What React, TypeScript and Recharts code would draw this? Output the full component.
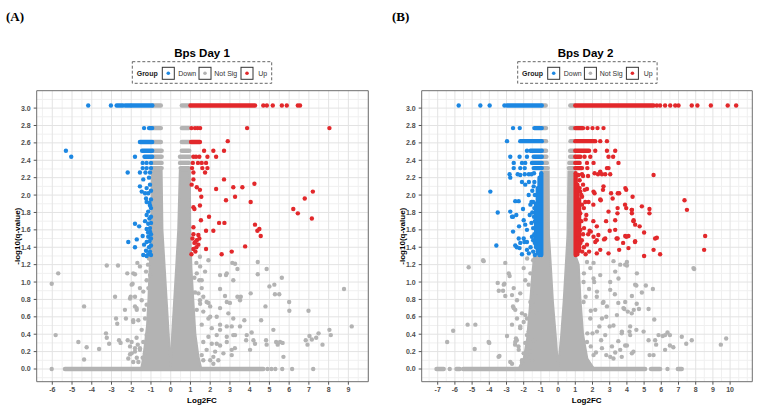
import React from 'react';
import { ComposedChart, XAxis, YAxis, Scatter, Area, CartesianGrid, ReferenceArea } from 'recharts';

type P = [number, number];
type Seg = [string, number, number, number, number];

const groupColor: Record<string, string> = { Down: '#1c87e2', 'Not Sig': '#b3b3b3', Up: '#e2282b' };
const legendGroups = ['Down', 'Not Sig', 'Up'];

const yTicks = [0, 0.2, 0.4, 0.6, 0.8, 1.0, 1.2, 1.4, 1.6, 1.8, 2.0, 2.2, 2.4, 2.6, 2.8, 3.0];
const yMinor = [-0.1, 0.1, 0.3, 0.5, 0.7, 0.9, 1.1, 1.3, 1.5, 1.7, 1.9, 2.1, 2.3, 2.5, 2.7, 2.9, 3.1];
const yDomain: [number, number] = [-0.146, 3.2];

// ---------- Panel A : Bps Day 1 ----------
const xTicksA = [-6, -5, -4, -3, -2, -1, 0, 1, 2, 3, 4, 5, 6, 7, 8, 9];
const xMinorA = [-6.5, -5.5, -4.5, -3.5, -2.5, -1.5, -0.5, 0.5, 1.5, 2.5, 3.5, 4.5, 5.5, 6.5, 7.5, 8.5, 9.5, 10];
const xDomainA: [number, number] = [-6.79, 10.01];

// dense Not Sig core (x, upper -log10 q)
const coreA: P[] = [
  [-1.5, 0], [-1.4, 0.12], [-1.3, 0.3], [-1.2, 0.5], [-1.13, 0.8], [-1.07, 1.15], [-1.0, 1.5], [-0.97, 1.9],
  [-0.95, 2.28], [-0.46, 2.28], [-0.42, 1.6], [-0.3, 1.15], [-0.2, 0.77], [-0.1, 0.39], [0, 0.02], [0.07, 0.39],
  [0.17, 0.77], [0.27, 1.15], [0.38, 1.6], [0.46, 2.28], [0.97, 2.28], [0.99, 1.6], [1.05, 1.16], [1.15, 0.77],
  [1.25, 0.4], [1.4, 0.15], [1.55, 0],
];

// runs of overlapping genes: group, x1, y1, x2, y2
const runsA: Seg[] = [
  ['Not Sig', -5.36, 0, 4.69, 0],
  ['Not Sig', -0.9, 3.03, -0.5, 3.03], ['Not Sig', 0.56, 3.03, 0.96, 3.03],
  ['Not Sig', -0.9, 2.77, -0.5, 2.77], ['Not Sig', 0.56, 2.77, 0.92, 2.77],
  ['Not Sig', -0.9, 2.61, -0.5, 2.61], ['Not Sig', 0.56, 2.61, 0.96, 2.61],
  ['Not Sig', -0.9, 2.51, -0.46, 2.51], ['Not Sig', 0.56, 2.51, 0.94, 2.51],
  ['Not Sig', -0.9, 2.44, -0.46, 2.44], ['Not Sig', 0.47, 2.44, 0.96, 2.44],
  ['Not Sig', -0.92, 2.37, -0.46, 2.37], ['Not Sig', 0.47, 2.37, 0.92, 2.37],
  ['Not Sig', -0.9, 2.31, -0.46, 2.31], ['Not Sig', 0.5, 2.31, 0.92, 2.31],
  ['Down', -2.74, 3.03, -2.42, 3.03], ['Down', -2.3, 3.03, -2.05, 3.03], ['Down', -1.98, 3.03, -0.93, 3.03],
  ['Down', -1.1, 2.77, -0.94, 2.77], ['Down', -1.56, 2.61, -0.94, 2.61], ['Down', -1.45, 2.51, -0.94, 2.51],
  ['Down', -1.33, 2.44, -0.94, 2.44],
  ['Up', 1.0, 3.03, 4.27, 3.03], ['Up', 1.03, 2.61, 1.48, 2.61],
];

const greyA: P[] = [
  [-6.03, 0], [4.9, 0], [5.1, 0], [5.3, 0], [5.65, 0], [6.15, 0], [7.22, 0],
  [-6.03, 0.98], [-5.7, 1.1], [-5.83, 0.39], [-4.39, 0.72], [-4.68, 0.31], [-4.26, 0.25], [-4.39, 0.11], [-3.63, 0.23],
  [-3.24, 1.19], [-2.67, 1.19], [-2.82, 0.83], [-3.28, 0.41], [-3.24, 0.36], [-3.12, 0.29], [-2.77, 0.58], [-2.71, 0.52],
  [-2.62, 0.33], [-2.54, 0.3], [-2.32, 0.68], [-2.27, 0.58], [-2.2, 1.1], [-1.9, 1.1], [-2.03, 0.83], [-1.93, 0.98],
  [-1.81, 0.72], [-1.73, 0.7], [-1.9, 0.56], [-2.18, 0.33], [-2.06, 0.26], [-2.15, 0.12], [-1.98, 0.18], [-1.81, 0.2],
  [-1.67, 0.28], [-1.56, 0.24], [-1.73, 0.36], [-1.9, 0.08], [-1.64, 0.08], [-1.42, 0.13], [-1.35, 0.68], [-1.47, 0.79],
  [-1.39, 0.89], [-1.22, 1.02], [-1.56, 1.18], [-1.69, 1.22], [-1.81, 1.09], [-1.98, 0.97], [-1.81, 0.83], [-2.06, 0.81],
  [-1.56, 0.93], [-1.72, 0.68], [-1.64, 0.56], [-1.9, 0.54], [-1.47, 0.45], [-1.98, 0.31], [-1.81, 0.24],
  [-1.56, 0.22], [-2.06, 0.17], [-1.72, 0.13], [-1.3, 0.18], [-1.39, 0.31], [-1.22, 0.39], [-1.3, 0.58], [-1.22, 0.74],
  [-1.13, 0.93], [-1.05, 1.08], [-1.15, 1.2], [-1.1, 1.27], [-1.25, 1.12],
  [1.91, 1.25], [1.49, 1.18], [1.74, 1.12], [1.32, 1.1], [1.57, 1.02], [2.5, 1.08], [2.84, 1.1], [1.57, 0.93], [1.65, 0.83],
  [1.4, 0.87], [1.82, 0.77], [1.49, 0.75], [2.0, 0.72], [1.65, 0.66], [2.5, 0.7], [2.84, 0.77], [3.17, 0.58], [2.33, 0.6],
  [1.91, 0.58], [1.57, 0.51], [2.08, 0.47], [2.5, 0.51], [2.84, 0.49], [2.33, 0.39], [1.91, 0.37], [1.65, 0.31], [2.08, 0.29],
  [2.5, 0.27], [2.84, 0.31], [3.17, 0.39], [1.82, 0.22], [2.25, 0.2], [2.67, 0.18], [1.57, 0.16], [2.0, 0.1], [3.25, 0.24],
  [3.09, 0.16], [2.16, 0.06],
  [1.45, 1.02], [1.23, 0.88], [1.48, 0.79], [1.32, 0.68], [1.91, 0.76], [2.0, 0.6], [2.5, 0.92], [2.75, 0.84], [2.8, 1.08],
  [3.26, 1.21], [3.38, 1.15], [3.17, 1.02], [3.38, 0.83], [3.55, 0.83], [3.51, 0.79], [4.05, 0.87], [4.41, 1.23], [4.41, 1.09],
  [4.86, 1.15], [5.0, 0.95], [5.25, 0.97], [5.28, 0.86], [5.5, 0.86], [5.63, 1.05], [4.8, 0.72], [4.58, 0.56], [4.1, 0.42],
  [5.2, 0.45], [6.0, 0.77], [6.01, 0.67], [6.98, 0.67], [8.78, 0.92], [9.17, 0.49], [8.04, 0.45], [8.11, 0.39], [7.03, 0.38],
  [6.84, 0.33], [6.93, 0.28], [7.15, 0.34], [7.37, 0.36], [7.49, 0.41], [7.69, 0.28], [5.71, 0.14], [5.34, 0.31], [5.42, 0.28],
  [5.54, 0.31], [5.67, 0.3], [4.83, 0.33], [4.86, 0.28], [4.19, 0.33], [4.27, 0.29], [3.82, 0.33], [3.73, 0.56], [3.0, 0.76],
  [2.92, 0.64], [3.09, 0.49], [2.84, 0.37], [3.26, 0.39], [3.51, 0.49], [3.85, 0.39], [4.02, 0.22], [3.09, 0.22], [2.5, 0.45],
  [2.33, 0.29], [2.16, 0.14], [1.65, 0.1], [2.41, 0.1], [1.48, 1.29], [3.12, 1.22], [1.3, 1.22], [1.2, 1.05],
];

const downA: P[] = [
  [-4.18, 3.03], [-3.03, 3.03], [-1.35, 2.77],
  [-5.31, 2.51], [-5.04, 2.44], [-1.81, 2.44],
  [-1.42, 2.37], [-1.22, 2.37], [-1.0, 2.37], [-1.42, 2.31], [-1.22, 2.31], [-1.0, 2.31],
  [-2.18, 2.26], [-1.56, 2.26], [-1.28, 2.26], [-1.05, 2.26], [-1.39, 2.18], [-1.1, 2.2],
  [-1.56, 2.1], [-1.22, 2.08], [-1.05, 2.12], [-1.47, 2.04], [-1.14, 2.02], [-1.3, 2.02], [-1.0, 2.05],
  [-1.25, 1.96], [-1.08, 1.91], [-1.22, 1.92], [-1.0, 1.95], [-1.0, 1.85], [-1.14, 1.81], [-1.05, 1.88],
  [-1.22, 1.77], [-1.08, 1.73], [-1.3, 1.7], [-1.0, 1.75], [-1.14, 1.67], [-1.81, 1.67], [-1.6, 1.64],
  [-1.22, 1.61], [-1.05, 1.62], [-1.0, 1.68], [-1.05, 1.58], [-1.42, 1.53], [-1.14, 1.52], [-1.0, 1.55],
  [-1.72, 1.49], [-2.15, 1.46], [-1.22, 1.46], [-1.35, 1.43], [-1.1, 1.4], [-1.81, 1.4], [-1.0, 1.42],
  [-1.25, 1.36], [-1.05, 1.35], [-1.14, 1.32], [-1.39, 1.31], [-1.22, 1.3], [-1.0, 1.31], [-1.08, 1.47], [-1.0, 1.5], [-1.15, 1.57],
];

const upA: P[] = [
  [4.69, 3.03], [4.87, 3.03], [5.17, 3.03], [5.63, 3.03], [5.88, 3.03], [6.44, 3.03], [6.55, 3.03],
  [1.05, 2.77], [1.23, 2.77], [1.36, 2.77], [1.49, 2.77], [3.87, 2.77], [8.04, 2.77],
  [2.89, 2.62], [1.69, 2.51], [2.16, 2.51], [2.7, 2.51],
  [1.15, 2.44], [1.28, 2.44], [1.45, 2.44], [1.86, 2.44], [2.3, 2.44],
  [1.12, 2.37], [1.38, 2.37], [1.57, 2.37], [1.79, 2.37], [1.08, 2.31], [1.6, 2.31], [1.86, 2.31],
  [1.15, 2.26], [1.74, 2.26], [2.7, 2.18], [1.15, 2.18], [4.24, 2.13], [1.06, 2.12],
  [3.17, 2.09], [3.63, 2.09], [1.32, 2.09], [1.48, 2.06], [2.3, 2.07], [7.2, 2.04],
  [3.26, 1.98], [1.55, 1.98], [6.79, 1.96], [2.8, 1.94], [4.05, 1.92],
  [1.48, 1.88], [1.15, 1.86], [1.2, 1.84], [6.21, 1.84], [6.44, 1.79], [1.94, 1.75], [7.15, 1.73], [1.53, 1.71],
  [2.45, 1.68], [2.72, 1.68], [4.27, 1.66], [1.15, 1.63], [4.49, 1.61], [4.39, 1.59], [1.79, 1.59], [2.16, 1.59],
  [4.56, 1.53], [1.4, 1.54], [1.15, 1.55], [1.32, 1.48], [1.45, 1.5], [1.25, 1.46], [1.4, 1.43], [1.1, 1.5],
  [1.2, 1.45], [1.3, 1.4], [1.15, 1.38], [1.25, 1.35], [1.05, 1.32],
  [3.77, 1.41], [1.79, 1.38], [3.09, 1.35], [2.58, 1.32],
];

// ---------- Panel B : Bps Day 2 ----------
const xTicksB = [-7, -6, -5, -4, -3, -2, -1, 0, 1, 2, 3, 4, 5, 6, 7, 8, 9, 10];
const xMinorB = [-7.5, -6.5, -5.5, -4.5, -3.5, -2.5, -1.5, -0.5, 0.5, 1.5, 2.5, 3.5, 4.5, 5.5, 6.5, 7.5, 8.5, 9.5, 10.5, 11];
const xDomainB: [number, number] = [-7.93, 11.29];

const coreB: P[] = [
  [-2.3, 0], [-2.0, 0.12], [-1.8, 0.35], [-1.65, 0.7], [-1.5, 1.1], [-1.4, 1.28], [-0.97, 1.3], [-0.95, 2.27],
  [-0.55, 2.27], [-0.53, 1.55], [-0.3, 0.77], [-0.14, 0.39], [0, 0.02], [0.18, 0.39], [0.32, 0.77], [0.55, 1.55],
  [0.6, 2.27], [1.0, 2.27], [1.02, 1.3], [1.2, 1.2], [1.3, 0.8], [1.45, 0.4], [1.7, 0.12], [2.1, 0],
];

const runsB: Seg[] = [
  ['Not Sig', -7.07, 0, -6.65, 0], ['Not Sig', -5.91, 0, -5.72, 0], ['Not Sig', -5.52, 0, 5.06, 0],
  ['Not Sig', 5.4, 0, 5.93, 0], ['Not Sig', 6.96, 0, 7.19, 0],
  ['Not Sig', -0.92, 3.03, -0.72, 3.03], ['Not Sig', 0.71, 3.03, 0.97, 3.03],
  ['Not Sig', -0.92, 2.77, -0.7, 2.77], ['Not Sig', 0.72, 2.77, 0.94, 2.77],
  ['Not Sig', -0.92, 2.62, -0.7, 2.62], ['Not Sig', 0.72, 2.62, 0.97, 2.62],
  ['Not Sig', -0.92, 2.51, -0.7, 2.51], ['Not Sig', 0.7, 2.51, 0.97, 2.51],
  ['Not Sig', -0.92, 2.44, -0.68, 2.44], ['Not Sig', 0.7, 2.44, 0.97, 2.44],
  ['Not Sig', -0.92, 2.37, -0.65, 2.37], ['Not Sig', 0.65, 2.37, 0.97, 2.37],
  ['Not Sig', -0.92, 2.31, -0.6, 2.31], ['Not Sig', 0.62, 2.31, 0.97, 2.31],
  ['Down', -2.97, 3.03, -0.95, 3.03], ['Down', -1.38, 2.77, -0.95, 2.77], ['Down', -2.2, 2.62, -0.95, 2.62],
  ['Down', -1.61, 2.51, -0.95, 2.51], ['Down', -1.42, 2.44, -0.95, 2.44], ['Down', -1.52, 2.37, -0.95, 2.37],
  ['Down', -1.42, 2.31, -0.95, 2.31],
  ['Down', -0.98, 1.31, -0.98, 2.25], ['Down', -1.08, 1.31, -1.08, 2.2], ['Down', -1.18, 1.33, -1.18, 2.08],
  ['Down', -1.28, 1.4, -1.28, 1.9],
  ['Up', 1.0, 3.03, 5.55, 3.03], ['Up', 1.0, 2.77, 1.45, 2.77], ['Up', 1.0, 2.62, 2.16, 2.62],
  ['Up', 1.0, 2.51, 1.8, 2.51], ['Up', 1.0, 2.44, 1.3, 2.44], ['Up', 1.0, 2.37, 1.25, 2.37], ['Up', 1.0, 2.31, 1.39, 2.31],
  ['Up', 1.02, 1.31, 1.02, 2.25], ['Up', 1.12, 1.32, 1.12, 2.12], ['Up', 1.22, 1.36, 1.22, 1.95],
];

const greyB: P[] = [
  [-6.3, 0], [6.36, 0],
  [-5.2, 1.17], [-4.33, 1.24], [-3.07, 1.22], [-3.51, 0.99], [-3.45, 0.9], [-3.12, 0.98], [-3.2, 0.9], [-3.07, 0.84],
  [-6.1, 0.44], [-6.45, 0.31], [-5.26, 0.51], [-4.81, 0.51], [-4.85, 0.23], [-4.0, 0.3], [-3.41, 0.15], [-2.97, 0.38],
  [-2.68, 0.06], [-2.5, 0.28], [-2.4, 0.33], [-2.3, 0.26], [-2.45, 0.35], [-2.87, 1.1], [-2.82, 1.07], [-2.58, 0.93],
  [-2.62, 0.72], [-2.49, 0.68], [-2.39, 0.79], [-2.2, 0.87], [-2.1, 0.64], [-2.0, 0.54], [-2.2, 0.49], [-1.81, 0.58],
  [-1.71, 0.43], [-1.91, 0.3], [-1.81, 0.16], [-1.61, 0.2], [-2.1, 0.1], [-1.52, 0.1], [-1.42, 0.33], [-1.91, 1.02],
  [-1.61, 1.1], [-1.42, 0.98], [-1.23, 1.14], [-1.52, 0.76], [-1.33, 0.87], [-1.23, 0.64],
  [-4.36, 1.25], [-4.04, 0.31], [-3.46, 0.14], [-2.78, 0.08], [-3.16, 0.97], [-2.68, 0.85], [-2.58, 0.7],
  [-2.39, 0.58], [-2.68, 0.51], [-2.2, 0.47], [-2.49, 0.31], [-2.29, 0.22], [-2.0, 0.18], [-2.1, 0.08], [-1.81, 0.39],
  [-1.91, 0.62], [-1.61, 0.77], [-1.71, 0.97], [-2.0, 1.16], [-1.45, 1.25], [-1.8, 1.27],
  [2.06, 1.22], [2.45, 1.08], [3.03, 1.0], [3.03, 0.91], [3.61, 1.2], [3.9, 1.2], [4.58, 1.1], [4.55, 0.96], [5.1, 0.96],
  [5.51, 0.92], [4.87, 0.88], [4.29, 0.84], [3.9, 0.77], [3.3, 0.86], [3.5, 0.76], [3.85, 0.69], [4.05, 0.66], [4.4, 0.68],
  [4.7, 0.69], [5.26, 0.69], [5.59, 0.57], [4.19, 0.49], [4.15, 0.43], [4.55, 0.45], [4.97, 0.43], [5.26, 0.33], [5.64, 0.33],
  [5.7, 0.28], [5.32, 0.16], [5.55, 0.16], [5.84, 0.39], [6.08, 0.38], [6.22, 0.39], [6.36, 0.42], [6.5, 0.39], [6.22, 0.22],
  [6.5, 0.27], [6.7, 0.25], [7.19, 0.37], [7.77, 0.33], [7.45, 0.29], [7.91, 1.15], [9.46, 0.28], [9.77, 0.35],
  [3.7, 0.41], [3.5, 0.32], [3.13, 0.26], [3.9, 0.27], [3.32, 0.19], [3.03, 0.14], [3.7, 0.14], [4.29, 0.18],
  [2.25, 0.83], [2.6, 0.76], [2.8, 0.6], [2.4, 0.49], [2.0, 0.41], [2.5, 0.33], [3.0, 0.49], [1.9, 0.26], [2.2, 0.19],
  [2.8, 0.16], [1.7, 0.41], [1.9, 0.67], [1.6, 0.83], [1.8, 0.92], [2.1, 1.0], [1.5, 1.1],
  [1.68, 1.23], [1.87, 1.16], [2.06, 1.04], [1.48, 1.0], [3.32, 1.12], [3.51, 1.04], [4.0, 1.23], [4.48, 0.97],
  [2.26, 0.89], [2.64, 0.77], [2.16, 0.68], [2.55, 0.58], [2.84, 0.72], [3.42, 0.62], [3.8, 0.7], [4.28, 0.64], [4.57, 0.75],
  [2.26, 0.43], [2.74, 0.39], [3.22, 0.5], [3.71, 0.43], [4.19, 0.39], [3.61, 0.22], [4.0, 0.27], [2.55, 0.24],
  [2.06, 0.16], [3.22, 0.12], [4.38, 0.2], [1.68, 0.31], [1.87, 0.58], [1.48, 0.77], [3.22, 1.24], [4.0, 1.19], [7.87, 1.16],
];

const downB: P[] = [
  [-5.78, 3.03], [-4.52, 3.03], [-3.98, 3.03], [-3.12, 3.03],
  [-2.62, 2.77], [-2.23, 2.77], [-2.97, 2.62], [-1.81, 2.51],
  [-2.78, 2.44], [-2.24, 2.44], [-1.81, 2.44], [-2.58, 2.37], [-2.1, 2.37], [-1.91, 2.37],
  [-2.58, 2.31], [-2.2, 2.31], [-1.94, 2.31],
  [-2.82, 2.24], [-2.35, 2.24], [-1.94, 2.24], [-1.7, 2.24], [-1.55, 2.24], [-1.4, 2.25],
  [-2.78, 2.2], [-2.2, 2.23], [-2.1, 2.15], [-1.91, 2.12], [-1.7, 2.15], [-1.42, 2.1], [-3.94, 2.04], [-1.71, 2.0],
  [-1.5, 2.05], [-1.35, 2.0], [-2.49, 1.93], [-2.29, 1.93], [-1.61, 1.89], [-1.45, 1.92], [-1.38, 1.85],
  [-2.04, 1.84], [-3.51, 1.8], [-2.78, 1.81], [-2.43, 1.77], [-2.62, 1.75], [-2.68, 1.75], [-1.65, 1.77], [-1.5, 1.8],
  [-1.4, 1.75], [-2.0, 1.71], [-1.91, 1.66], [-2.27, 1.64], [-1.55, 1.68], [-1.45, 1.62], [-1.35, 1.7],
  [-1.81, 1.6], [-2.62, 1.58], [-1.52, 1.52], [-2.29, 1.5], [-2.0, 1.5], [-1.96, 1.46], [-1.81, 1.46], [-1.45, 1.48],
  [-1.38, 1.55], [-2.49, 1.42], [-3.59, 1.42], [-2.24, 1.39], [-1.81, 1.37], [-1.6, 1.4], [-1.45, 1.35], [-1.7, 1.33],
  [-2.1, 1.32], [-1.35, 1.31], [-2.4, 1.4], [-2.2, 1.45], [-1.38, 2.15], [-1.35, 1.45], [-1.55, 1.92],
];

const upB: P[] = [
  [5.74, 3.03], [5.93, 3.03], [6.22, 3.03], [6.52, 3.03], [6.81, 3.03], [7.0, 3.03], [7.77, 3.03], [8.1, 3.03],
  [8.88, 3.03], [9.86, 3.03], [10.35, 3.03],
  [1.71, 2.77], [2.0, 2.77], [2.29, 2.77], [2.64, 2.77], [2.45, 2.62], [2.84, 2.62],
  [2.16, 2.51], [2.84, 2.51], [3.32, 2.51], [1.54, 2.44], [1.87, 2.44], [2.93, 2.44], [3.2, 2.44],
  [1.68, 2.37], [2.06, 2.37], [3.51, 2.37], [2.84, 2.31], [2.93, 2.31], [1.7, 2.31],
  [1.19, 2.23], [1.45, 2.22], [1.74, 2.22], [2.12, 2.25], [2.32, 2.24], [2.45, 2.27], [2.74, 2.24], [3.03, 2.24],
  [5.55, 2.23], [1.39, 2.24], [2.55, 2.24],
  [1.25, 2.17], [1.1, 2.1], [1.29, 2.04], [1.39, 1.98], [1.68, 2.07], [1.58, 1.92], [2.06, 2.04], [2.45, 1.95],
  [2.61, 2.06], [3.17, 1.96], [3.55, 2.02], [3.96, 2.06],
  [3.46, 1.85], [3.96, 1.85], [4.29, 1.83], [4.29, 1.79], [4.87, 1.87], [5.31, 1.84], [5.31, 1.79], [7.35, 1.94],
  [7.49, 1.83], [8.55, 1.53], [8.49, 1.37],
  [4.39, 1.71], [4.48, 1.66], [4.74, 1.64], [5.0, 1.57], [5.64, 1.5], [5.74, 1.51], [5.55, 1.37], [5.93, 1.32], [5.0, 1.3],
  [3.32, 1.71], [3.32, 1.6], [3.46, 1.5], [3.9, 1.53], [4.09, 1.53], [4.48, 1.47], [4.09, 1.39], [3.55, 1.37], [3.78, 1.45],
  [3.0, 1.59], [2.74, 1.5], [2.25, 1.64], [2.25, 1.48], [1.83, 1.59], [2.06, 1.52], [2.45, 1.37], [2.93, 1.33],
  [2.25, 1.33], [1.68, 1.43],
  [1.25, 2.08], [1.55, 2.06], [2.12, 2.02], [2.64, 2.1], [3.08, 2.02], [3.47, 2.02], [3.91, 2.08], [4.33, 1.98],
  [1.19, 1.92], [1.39, 1.89], [1.77, 1.92], [2.05, 1.89], [2.48, 1.94], [2.93, 1.81], [3.45, 1.79], [3.89, 1.89],
  [4.28, 1.83], [1.29, 1.79], [1.64, 1.77], [2.05, 1.7], [2.79, 1.7], [4.38, 1.7], [1.19, 1.66], [1.51, 1.62],
  [1.9, 1.58], [2.34, 1.54], [3.4, 1.5], [3.97, 1.52], [1.19, 1.5], [1.38, 1.48], [2.16, 1.46], [2.67, 1.49], [4.47, 1.46],
  [1.35, 1.7], [1.45, 1.55], [1.3, 1.45], [1.4, 1.35], [1.5, 1.4], [1.6, 1.32], [1.35, 2.0], [1.45, 2.12],
  [1.5, 1.85], [1.6, 1.72], [1.75, 1.55], [1.3, 1.6], [1.8, 1.35],
];

// ---------- rendering ----------
const R = 2.2;
const toPts = (arr: P[]) => arr.map(([x, y]) => ({ x, y }));
const dotShape = (color: string) => (p: any) =>
  p.cx == null ? <g /> : <circle cx={p.cx} cy={p.cy} r={R} fill={color} />;
const noShape = () => <g />;

const tickStyle = { fontSize: 7, fill: '#4d4d4d', fontWeight: 700, fontFamily: '"Liberation Sans", Arial, sans-serif' };

interface PanelProps {
  left: number; width: number; yAxisWidth: number; marginRight: number;
  xDomain: [number, number]; xTicks: number[]; xMinor: number[];
  core: P[]; runs: Seg[]; grey: P[]; down: P[]; up: P[];
}

function Panel(props: PanelProps) {
  const { left, width, yAxisWidth, marginRight, xDomain, xTicks, xMinor, core, runs, grey, down, up } = props;
  const coreData = core.map(([x, h]) => ({ x, h }));
  const greyRuns = runs.filter((r) => r[0] === 'Not Sig');
  const colRuns = runs.filter((r) => r[0] !== 'Not Sig');
  const renderRun = (r: Seg, i: number, key: string) => (
    <Scatter
      key={key + i}
      data={[{ x: r[1], y: r[2] }, { x: r[3], y: r[4] }]}
      line={{ stroke: groupColor[r[0]], strokeWidth: R * 2, strokeLinecap: 'round' } as any}
      shape={noShape}
      isAnimationActive={false}
    />
  );
  return (
    <div style={{ position: 'absolute', left, top: 0 }}>
      <ComposedChart width={width} height={409} data={coreData}
        margin={{ top: 90.7, right: marginRight, bottom: 0, left: 0 }}>
        <CartesianGrid verticalValues={xMinor} horizontalValues={yMinor} stroke="#f0f0f0" strokeWidth={1} />
        <CartesianGrid verticalValues={xTicks} horizontalValues={yTicks} stroke="#e3e3e3" strokeWidth={1} />
        <XAxis type="number" dataKey="x" domain={xDomain} ticks={xTicks} allowDataOverflow interval={0}
          height={27.3} axisLine={false} tickLine={{ stroke: '#555' }} tickSize={3} tickMargin={2.5} tick={tickStyle} />
        <YAxis type="number" dataKey="y" domain={yDomain} ticks={yTicks} allowDataOverflow interval={0}
          width={yAxisWidth} axisLine={false} tickLine={{ stroke: '#555' }} tickSize={3} tickMargin={3} tick={tickStyle}
          tickFormatter={(v: number) => v.toFixed(1)} />
        <Area type="linear" dataKey="h" baseValue={0} stroke={groupColor['Not Sig']} strokeWidth={2}
          fill={groupColor['Not Sig']} fillOpacity={1} isAnimationActive={false} dot={false} activeDot={false} />
        <Scatter data={toPts(grey)} shape={dotShape(groupColor['Not Sig'])} isAnimationActive={false} />
        {greyRuns.map((r, i) => renderRun(r, i, 'g'))}
        {colRuns.map((r, i) => renderRun(r, i, 'c'))}
        <Scatter data={toPts(down)} shape={dotShape(groupColor.Down)} isAnimationActive={false} />
        <Scatter data={toPts(up)} shape={dotShape(groupColor.Up)} isAnimationActive={false} />
        <ReferenceArea x1={xDomain[0]} x2={xDomain[1]} y1={yDomain[0]} y2={yDomain[1]}
          fill="none" fillOpacity={0} stroke="#6e6e6e" strokeWidth={1} ifOverflow="visible" />
      </ComposedChart>
    </div>
  );
}

const SANS = '"Liberation Sans", Arial, sans-serif';

function Legend({ x0 }: { x0: number }) {
  const boxX = [30, 66.7, 108.7];
  const textX = [46, 82, 126];
  return (
    <g>
      <rect x={x0} y={61.7} width={139.4} height={21.6} fill="none" stroke="#555" strokeWidth={0.9} strokeDasharray="3 2" />
      <text x={x0 + 4.4} y={75.8} fontSize={7} fontWeight={700} fontFamily={SANS} fill="#222">Group</text>
      {legendGroups.map((g, i) => (
        <g key={g}>
          <rect x={x0 + boxX[i]} y={67.3} width={12} height={12} fill="#fff" stroke="#333" strokeWidth={1} />
          <circle cx={x0 + boxX[i] + 6} cy={73.3} r={1.8} fill={groupColor[g]} />
          <text x={x0 + textX[i]} y={75.8} fontSize={7} fontFamily={SANS} fill="#333">{g}</text>
        </g>
      ))}
    </g>
  );
}

export default function App() {
  return (
    <div style={{ position: 'absolute', left: 0, top: 0, width: 757, height: 409, background: '#fff', overflow: 'hidden' }}>
      <Panel left={0} width={378} yAxisWidth={36.7} marginRight={9.7} xDomain={xDomainA} xTicks={xTicksA}
        xMinor={xMinorA} core={coreA} runs={runsA} grey={greyA} down={downA} up={upA} />
      <Panel left={380} width={377} yAxisWidth={41.7} marginRight={4.7} xDomain={xDomainB} xTicks={xTicksB}
        xMinor={xMinorB} core={coreB} runs={runsB} grey={greyB} down={downB} up={upB} />
      <svg width={757} height={409} style={{ position: 'absolute', left: 0, top: 0, pointerEvents: 'none' }}>
        <text x={6} y={21} fontSize={13} fontWeight={700} fontFamily='"Liberation Serif", "Times New Roman", serif' fill="#000">(A)</text>
        <text x={392} y={21} fontSize={13} fontWeight={700} fontFamily='"Liberation Serif", "Times New Roman", serif' fill="#000">(B)</text>
        <text x={202} y={57} textAnchor="middle" fontSize={11.5} fontWeight={700} fontFamily={SANS} fill="#000">Bps Day 1</text>
        <text x={585.5} y={57} textAnchor="middle" fontSize={11.5} fontWeight={700} fontFamily={SANS} fill="#000">Bps Day 2</text>
        <Legend x0={132.3} />
        <Legend x0={517.7} />
        <text x={202} y={402.7} textAnchor="middle" fontSize={8} fontWeight={700} fontFamily={SANS} fill="#000">Log2FC</text>
        <text x={586.7} y={402.7} textAnchor="middle" fontSize={8} fontWeight={700} fontFamily={SANS} fill="#000">Log2FC</text>
        <text transform="translate(19.5,236.2) rotate(-90)" textAnchor="middle" fontSize={8} fontWeight={700} fontFamily={SANS} fill="#000">-log10(q-value)</text>
        <text transform="translate(404.5,236.2) rotate(-90)" textAnchor="middle" fontSize={8} fontWeight={700} fontFamily={SANS} fill="#000">-log10(q-value)</text>
      </svg>
    </div>
  );
}
